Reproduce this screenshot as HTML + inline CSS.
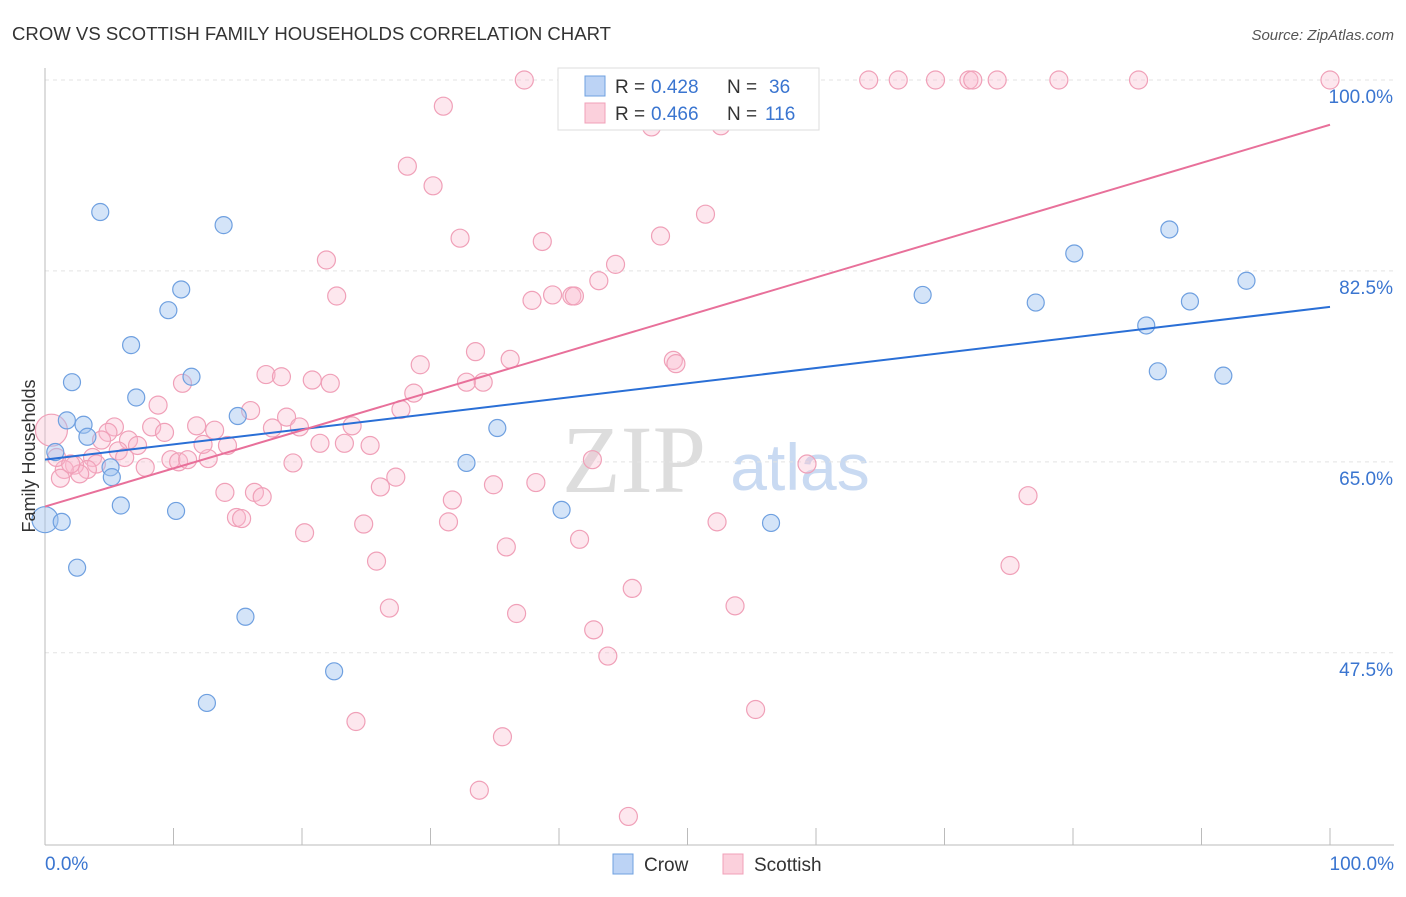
<!DOCTYPE html>
<html><head><meta charset="utf-8"><style>
body{margin:0;background:#fff;font-family:"Liberation Sans",sans-serif}
svg text{font-family:"Liberation Sans",sans-serif}
</style></head><body>
<svg id="c" width="1406" height="892">
<text x="12" y="40" font-size="18" fill="#333" textLength="599" lengthAdjust="spacingAndGlyphs">CROW VS SCOTTISH FAMILY HOUSEHOLDS CORRELATION CHART</text>
<text x="1394" y="40" font-size="15" fill="#555" text-anchor="end" font-style="italic">Source: ZipAtlas.com</text>
<text x="634" y="492" font-size="96" fill="#ddd" text-anchor="middle" style="font-family:'Liberation Serif',serif">ZIP</text>
<text x="800" y="490" font-size="66" fill="#c9daf2" text-anchor="middle">atlas</text>
<g id="grid"></g><g id="pts"></g><g id="lines"></g>
<text x="35" y="456" font-size="18" fill="#333" text-anchor="middle" transform="rotate(-90 35 456)">Family Households</text>
<text x="45" y="870" font-size="19" fill="#3a75d0">0.0%</text>
<text x="1394" y="870" font-size="19" fill="#3a75d0" text-anchor="end">100.0%</text>
<g>
<rect x="558" y="68" width="261" height="62" fill="#fff" stroke="#ddd"/>
<rect x="585" y="76" width="20" height="20" fill="#bcd3f5" stroke="#6fa0e0"/>
<rect x="585" y="103" width="20" height="20" fill="#fbd0dc" stroke="#f0a0b8"/>
<text y="93" font-size="19" fill="#333"><tspan x="615">R =</tspan><tspan x="651" fill="#3a75d0">0.428</tspan><tspan x="727">N =</tspan><tspan x="769" fill="#3a75d0">36</tspan></text>
<text y="120" font-size="19" fill="#333"><tspan x="615">R =</tspan><tspan x="651" fill="#3a75d0">0.466</tspan><tspan x="727">N =</tspan><tspan x="765" fill="#3a75d0">116</tspan></text>
</g>
<g>
<rect x="613" y="854" width="20" height="20" fill="#bcd3f5" stroke="#6fa0e0"/>
<text x="644" y="871" font-size="19" fill="#333">Crow</text>
<rect x="723" y="854" width="20" height="20" fill="#fbd0dc" stroke="#f0a0b8"/>
<text x="754" y="871" font-size="19" fill="#333">Scottish</text>
</g>
</svg>
<script>
const yTicks=[100,82.5,65,47.5];
const yTickLabels=["100.0%","82.5%","65.0%","47.5%"];
const crowX=[0,1.3,0.8,1.7,3.0,3.3,2.1,4.3,5.1,5.2,5.9,2.5,6.7,7.1,9.6,10.6,10.2,11.4,13.9,15.0,12.6,15.6,22.5,32.8,35.2,40.2,56.5,68.3,77.1,80.1,85.7,86.6,87.5,89.1,91.7,93.5];
const crowY=[59.7,59.5,65.9,68.8,68.4,67.3,72.3,87.9,64.5,63.6,61.0,55.3,75.7,70.9,78.9,80.8,60.5,72.8,86.7,69.2,42.9,50.8,45.8,64.9,68.1,60.6,59.4,80.3,79.6,84.1,77.5,73.3,86.3,79.7,72.9,81.6];
const scotX=[37.3,51.8,57.7,58.8,64.1,66.4,69.3,71.9,72.2,74.1,78.9,85.1,100,31.0,47.2,52.6,28.2,30.2,32.3,38.7,47.9,51.4,21.9,22.7,37.9,39.5,41.0,41.2,43.1,44.4,29.2,33.5,36.2,48.9,49.1,17.2,18.4,20.8,22.2,10.7,8.8,16.0,27.7,28.7,32.8,34.1,18.8,19.8,17.7,11.8,13.2,8.3,9.3,5.4,4.9,4.4,6.5,7.2,5.7,6.2,3.7,4.0,3.3,2.3,2.7,1.5,0.9,0.5,7.8,9.8,10.4,11.1,12.7,12.3,14.2,21.4,23.3,25.3,23.9,19.3,14.0,16.3,16.9,14.9,15.3,20.2,24.8,26.1,27.3,31.7,31.4,34.9,38.2,42.6,35.9,41.6,25.8,26.8,36.7,45.7,42.7,43.8,53.7,52.3,59.3,76.5,75.1,24.2,35.6,33.8,45.4,55.3,1.2,2.0];
const scotY=[100,100,100,100,100,100,100,100,100,100,100,100,100,97.6,95.7,95.8,92.1,90.3,85.5,85.2,85.7,87.7,83.5,80.2,79.8,80.3,80.2,80.2,81.6,83.1,73.9,75.1,74.4,74.3,74.0,73.0,72.8,72.5,72.2,72.2,70.2,69.7,69.8,71.3,72.3,72.3,69.1,68.2,68.1,68.3,67.9,68.2,67.7,68.2,67.7,67.0,67.0,66.5,66.0,65.4,65.4,64.8,64.3,64.7,63.9,64.3,65.4,67.9,64.5,65.2,65.0,65.2,65.3,66.6,66.5,66.7,66.7,66.5,68.3,64.9,62.2,62.2,61.8,59.9,59.8,58.5,59.3,62.7,63.6,61.5,59.5,62.9,63.1,65.2,57.2,57.9,55.9,51.6,51.1,53.4,49.6,47.2,51.8,59.5,64.8,61.9,55.5,41.2,39.8,34.9,32.5,42.3,63.5,64.8];
const crowTrend=[65.2,79.2];
const scotTrend=[60.9,95.9];
const NS="http://www.w3.org/2000/svg";
const X=v=>45+v*12.85;
const Y=v=>80+(100-v)*10.91;
function mk(t,a,p){const e=document.createElementNS(NS,t);for(const k in a)e.setAttribute(k,a[k]);p.appendChild(e);return e;}
const g=document.getElementById('grid');
yTicks.forEach((t,i)=>{
 const l=mk('line',{x1:45,x2:1394,y1:Y(t),y2:Y(t),stroke:'#e3e3e3','stroke-dasharray':'4,4'},g);
 
 
 const tx=mk('text',{x:1393,y:Y(t)+23,'font-size':19,fill:'#3a75d0','text-anchor':'end'},g);
 tx.textContent=yTickLabels[i];
 
 
});
const ax=mk('line',{x1:45,x2:45,y1:68,y2:845,stroke:'#bbb'},g);


const bx=mk('line',{x1:45,x2:1394,y1:845,y2:845,stroke:'#bbb'},g);


for(let i=0;i<=10;i++){const t=mk('line',{x1:X(i*10),x2:X(i*10),y1:828,y2:845,stroke:'#bbb'},g);
 
 }
const p=document.getElementById('pts');
scotX.forEach((v,i)=>{const c=mk('circle',{cx:X(v),cy:Y(scotY[i]),r:(i==67?16:9),fill:'rgba(248,185,205,0.35)',stroke:'#f0a0b8','stroke-width':1.2},p);
 
 });
crowX.forEach((v,i)=>{const c=mk('circle',{cx:X(v),cy:Y(crowY[i]),r:(i==0?13:8.5),fill:'rgba(160,195,240,0.45)',stroke:'#6fa0e0','stroke-width':1.2},p);
 
 });
const L=document.getElementById('lines');
const l1=mk('line',{x1:X(0),y1:Y(crowTrend[0]),x2:X(100),y2:Y(crowTrend[1]),stroke:'#2a6fd6','stroke-width':2},L);


const l2=mk('line',{x1:X(0),y1:Y(scotTrend[0]),x2:X(100),y2:Y(scotTrend[1]),stroke:'#e8709a','stroke-width':2},L);


</script>
</body></html>
